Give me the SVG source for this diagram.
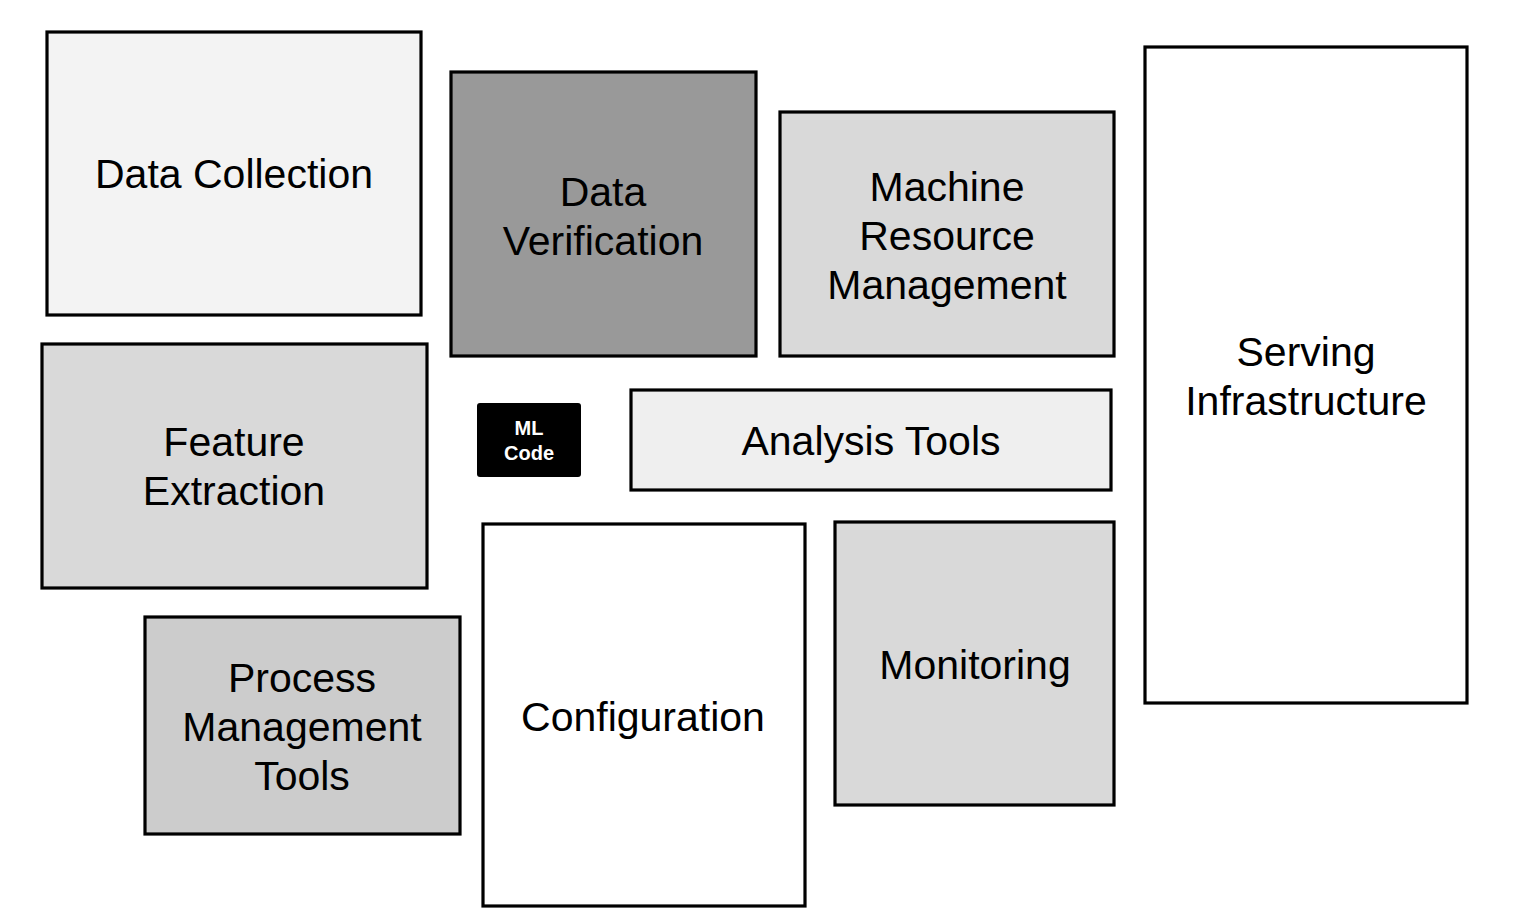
<svg xmlns="http://www.w3.org/2000/svg" width="1513" height="920" viewBox="0 0 1513 920">
<style>
.box{stroke:#000;stroke-width:3.2}
.t{font-family:"Liberation Sans",Arial,sans-serif;font-size:41px;fill:#000;text-anchor:middle}
.ml{font-family:"Liberation Sans",Arial,sans-serif;font-size:20px;font-weight:bold;fill:#fff;text-anchor:middle}
</style>
<rect x="0" y="0" width="1513" height="920" fill="#fff"/>
<g id="data-collection">
<rect class="box" x="47" y="32" width="374" height="283" fill="#f3f3f3"/>
<text class="t" x="234" y="188">Data Collection</text>
</g>
<g id="data-verification">
<rect class="box" x="451" y="72" width="305" height="284" fill="#999999"/>
<text class="t" x="603" y="206">Data</text>
<text class="t" x="603" y="255">Verification</text>
</g>
<g id="machine-resource-management">
<rect class="box" x="780" y="112" width="334" height="244" fill="#d9d9d9"/>
<text class="t" x="947" y="201">Machine</text>
<text class="t" x="947" y="250">Resource</text>
<text class="t" x="947" y="299">Management</text>
</g>
<g id="serving-infrastructure">
<rect class="box" x="1145" y="47" width="322" height="656" fill="#ffffff"/>
<text class="t" x="1306" y="366">Serving</text>
<text class="t" x="1306" y="415">Infrastructure</text>
</g>
<g id="feature-extraction">
<rect class="box" x="42" y="344" width="385" height="244" fill="#d9d9d9"/>
<text class="t" x="234" y="456">Feature</text>
<text class="t" x="234" y="505">Extraction</text>
</g>
<g id="ml-code">
<rect x="477" y="403" width="104" height="74" rx="3" fill="#000"/>
<text class="ml" x="529" y="435">ML</text>
<text class="ml" x="529" y="460">Code</text>
</g>
<g id="analysis-tools">
<rect class="box" x="631" y="390" width="480" height="100" fill="#efefef"/>
<text class="t" x="871" y="455">Analysis Tools</text>
</g>
<g id="process-management-tools">
<rect class="box" x="145" y="617" width="315" height="217" fill="#cccccc"/>
<text class="t" x="302" y="692">Process</text>
<text class="t" x="302" y="741">Management</text>
<text class="t" x="302" y="790">Tools</text>
</g>
<g id="configuration">
<rect class="box" x="483" y="524" width="322" height="382" fill="#ffffff"/>
<text class="t" x="643" y="731">Configuration</text>
</g>
<g id="monitoring">
<rect class="box" x="835" y="522" width="279" height="283" fill="#d9d9d9"/>
<text class="t" x="975" y="679">Monitoring</text>
</g>
<g id="connectors"></g>
</svg>
